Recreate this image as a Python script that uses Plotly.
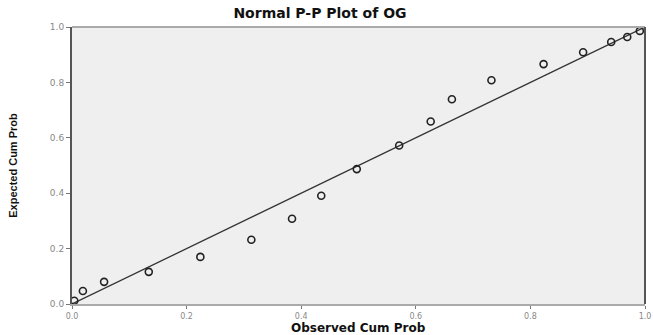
import plotly.graph_objects as go

observed = [0.004, 0.019, 0.056, 0.134, 0.224, 0.313, 0.384, 0.435, 0.497,
            0.571, 0.626, 0.663, 0.732, 0.823, 0.892, 0.941, 0.969, 0.991]
expected = [0.012, 0.047, 0.080, 0.116, 0.170, 0.232, 0.308, 0.391, 0.487,
            0.572, 0.659, 0.739, 0.808, 0.866, 0.909, 0.946, 0.964, 0.986]
ref_x = [0.0, 1.0]
ref_y = [0.0, 1.0]
tick_vals = [0.0, 0.2, 0.4, 0.6, 0.8, 1.0]
tick_text = ["0.0", "0.2", "0.4", "0.6", "0.8", "1.0"]

fig = go.Figure()
fig.add_trace(go.Scatter(x=ref_x, y=ref_y, mode="lines",
                         line=dict(color="#333333", width=1.3), showlegend=False,
                         hoverinfo="skip"))
fig.add_trace(go.Scatter(x=observed, y=expected, mode="markers",
                         marker=dict(symbol="circle-open", size=7, color="#222222",
                                     line=dict(color="#222222", width=1.6)),
                         showlegend=False))

fig.update_layout(
    width=653, height=335,
    margin=dict(l=72, r=8, t=27, b=31),
    paper_bgcolor="white", plot_bgcolor="#efefef",
    title=dict(text="<b>Normal P-P Plot of OG</b>", x=0.49, xref="container",
               xanchor="center", y=0.962, yref="container", yanchor="middle",
               font=dict(family="DejaVu Sans", size=14, color="#111111")),
    xaxis=dict(range=[0, 1], tickvals=tick_vals, ticktext=tick_text,
               automargin=False,
               showgrid=False, zeroline=False, showline=True, linecolor="#aaaaaa",
               linewidth=2, ticks="outside", ticklen=3, tickcolor="#777777",
               tickfont=dict(family="DejaVu Sans", size=8, color="#888888")),
    yaxis=dict(range=[0, 1], tickvals=tick_vals, ticktext=tick_text,
               showgrid=False, zeroline=False, showline=True, linecolor="#555555",
               linewidth=2, ticks="outside", ticklen=4, tickcolor="#777777",
               tickfont=dict(family="DejaVu Sans", size=9, color="#888888"),
               title=dict(text="<b>Expected Cum Prob</b>", standoff=30,
                          font=dict(family="Liberation Sans Narrow, Liberation Sans", size=11,
                                    color="#111111"))),
    annotations=[
        dict(text="<b>Observed Cum Prob</b>", xref="paper", yref="paper",
             x=0.5, y=-0.116, xanchor="center", yanchor="bottom", showarrow=False,
             borderpad=0,
             font=dict(family="DejaVu Sans", size=12, color="#111111")),
    ],
    shapes=[
        dict(type="line", xref="paper", yref="paper", x0=0, x1=1, y0=1, y1=1,
             line=dict(color="#aaaaaa", width=2)),
        dict(type="line", xref="paper", yref="paper", x0=1, x1=1, y0=0, y1=1,
             line=dict(color="#555555", width=2)),
    ],
)

fig.write_html("out.html")
